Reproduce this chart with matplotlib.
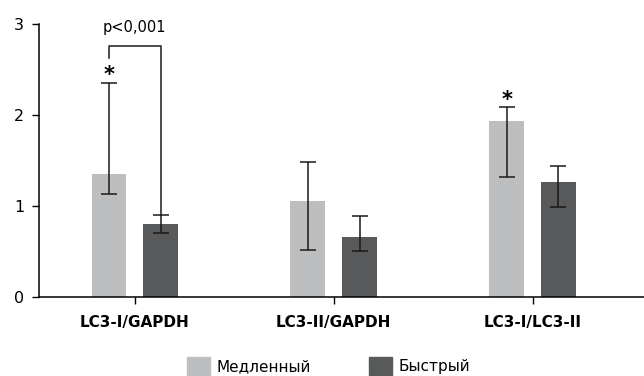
import numpy as np
import matplotlib
matplotlib.use("Agg")
import matplotlib.pyplot as plt
from matplotlib.patches import Patch

# LC3 ratios, slow vs fast groups
categories = ['LC3-I/GAPDH', 'LC3-II/GAPDH', 'LC3-I/LC3-II']
slow_mean = [1.35, 1.06, 1.94]
slow_lo = [1.13, 0.52, 1.32]
slow_hi = [2.36, 1.49, 2.09]
fast_mean = [0.80, 0.66, 1.27]
fast_lo = [0.71, 0.51, 0.99]
fast_hi = [0.90, 0.89, 1.44]
series_names = ['Медленный', 'Быстрый']
p_text = 'p<0,001'

light = '#bdbebf'
dark = '#58595b'

fig = plt.figure(figsize=(6.44, 3.76), dpi=100)
ax = fig.add_axes([0.061, 0.21, 0.939, 0.725])

x = np.arange(len(categories))
w = 0.175
off = 0.13
slow_err = [np.array(slow_mean) - np.array(slow_lo), np.array(slow_hi) - np.array(slow_mean)]
fast_err = [np.array(fast_mean) - np.array(fast_lo), np.array(fast_hi) - np.array(fast_mean)]
ekw = dict(ecolor='#1a1a1a', elinewidth=1.1, capsize=5.5, capthick=1.1)
ax.bar(x - off, slow_mean, w, color=light, yerr=slow_err, error_kw=ekw)
ax.bar(x + off, fast_mean, w, color=dark, yerr=fast_err, error_kw=ekw)

# significance marks
for i in (0, 2):
    ax.text(x[i] - off, slow_hi[i] - 0.03, '*', ha='center', va='bottom',
            fontsize=15, fontweight='bold')
bt = 2.76
ax.plot([x[0] - off, x[0] - off, x[0] + off, x[0] + off],
        [2.63, bt, bt, fast_hi[0]], color='#1a1a1a', lw=1.1)
ax.text(x[0], 2.88, p_text, ha='center', va='bottom', fontsize=10.5)

ax.set_xlim(-0.48, 2.56)
ax.set_ylim(0, 3)
ax.set_yticks([0, 1, 2, 3])
ax.set_xticks(x)
ax.set_xticklabels(categories, fontweight='bold', fontsize=11,
                   family=['DejaVu Sans Condensed', 'DejaVu Sans'])
ax.tick_params(axis='y', labelsize=11.5, length=5, width=1, pad=6)
ax.tick_params(axis='x', length=5, width=1, pad=8)
for s in ('top', 'right'):
    ax.spines[s].set_visible(False)
for s in ('left', 'bottom'):
    ax.spines[s].set_linewidth(1.1)

handles = [Patch(color=light), Patch(color=dark)]
fig.legend(handles, series_names, loc='lower center', bbox_to_anchor=(0.51, -0.035),
           ncol=2, frameon=False, fontsize=11, handlelength=1.5, handleheight=1.5,
           columnspacing=3.8, handletextpad=0.45)

fig.savefig('out.png', dpi=100)
